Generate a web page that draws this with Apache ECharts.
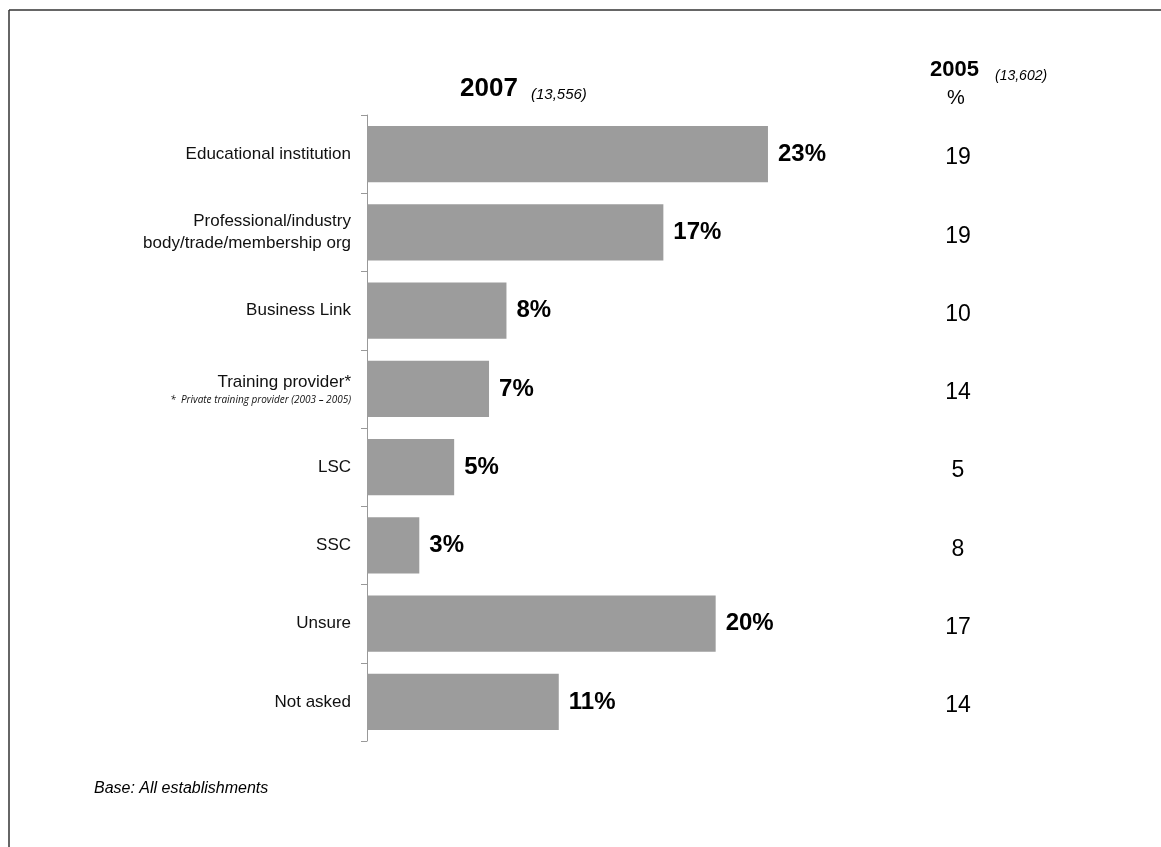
<!DOCTYPE html>
<html>
<head>
<meta charset="utf-8">
<script src="https://cdn.jsdelivr.net/npm/echarts@6/dist/echarts.min.js"></script>
<style>
  html, body { margin: 0; padding: 0; background: #fff; }
  #chart { width: 1161px; height: 847px; }
</style>
</head>
<body>
<div id="chart"></div>
<script>
// Sources of advice, 2007 share vs 2005 share
const categories = [
  'Educational institution',
  'Professional/industry\nbody/trade/membership org',
  'Business Link',
  'Training provider*',
  'LSC',
  'SSC',
  'Unsure',
  'Not asked'
];
const values2007 = [23, 17, 8, 7, 5, 3, 20, 11];
const values2005 = [19, 19, 10, 14, 5, 8, 17, 14];
const footnote = '*  Private training provider (2003 – 2005)';

const chart = echarts.init(document.getElementById('chart'));

const font = '"Liberation Sans", Arial, sans-serif';

function txt(x, y, text, size, weight, style) {
  return {
    type: 'text', left: x, top: y,
    style: {
      text: text, fill: '#000',
      font: (style || 'normal') + ' ' + (weight || 'normal') + ' ' + size + 'px ' + font
    }
  };
}

chart.setOption({
  animation: false,
  backgroundColor: '#fff',
  textStyle: { fontFamily: font },
  graphic: [
    // frame lines along the top and left edges
    { type: 'line', shape: { x1: 9, y1: 10, x2: 1161, y2: 10 }, style: { stroke: '#333', lineWidth: 1.5 } },
    { type: 'line', shape: { x1: 9, y1: 10, x2: 9, y2: 847 }, style: { stroke: '#333', lineWidth: 1.5 } },
    // column headings
    txt(460, 76, '2007', 26, 'bold'),
    txt(531, 87, '(13,556)', 15, 'normal', 'italic'),
    txt(930, 59, '2005', 22, 'bold'),
    txt(995, 69, '(13,602)', 14, 'normal', 'italic'),
    txt(947, 88, '%', 20),
    // base note
    txt(94, 781, 'Base: All establishments', 16, 'normal', 'italic')
  ],
  grid: {
    left: 367, top: 115, width: 523, height: 626,
    containLabel: false
  },
  xAxis: {
    type: 'value', min: 0, max: 30,
    show: false
  },
  yAxis: [
    {
      type: 'category',
      data: categories,
      inverse: true,
      axisLine: { show: true, lineStyle: { color: '#999', width: 1 } },
      axisTick: { show: true, length: 6, lineStyle: { color: '#999' } },
      axisLabel: {
        margin: 16,
        color: '#111',
        fontSize: 17,
        fontFamily: font,
        lineHeight: 22,
        align: 'right',
        formatter: function (v) {
          if (v === 'Training provider*') {
            return '{a|' + v + '}\n{f|' + footnote + '}';
          }
          return v;
        },
        rich: {
          a: { fontSize: 17, color: '#111', fontFamily: font, align: 'right', lineHeight: 22 },
          f: { fontSize: 10, fontStyle: 'italic', color: '#111', fontFamily: '"Open Sans", sans-serif', align: 'right', lineHeight: 14 }
        }
      }
    },
    {
      // 2005 column, one value per row
      type: 'category',
      data: values2005.map(String),
      inverse: true,
      position: 'right',
      axisLine: { show: false },
      axisTick: { show: false },
      axisLabel: {
        margin: 68,
        align: 'center',
        formatter: function (v) { return '{v|' + v + '}'; },
        rich: {
          v: { color: '#000', fontSize: 23, fontFamily: font, padding: [8, 0, 0, 0] }
        }
      }
    }
  ],
  series: [
    {
      type: 'bar',
      yAxisIndex: 0,
      data: values2007,
      barCategoryGap: '28%',
      itemStyle: { color: '#9c9c9c' },
      label: {
        show: true,
        position: 'right',
        distance: 10,
        formatter: '{c}%',
        color: '#000',
        fontSize: 24,
        fontWeight: 'bold',
        fontFamily: font
      }
    }
  ]
});
</script>
</body>
</html>
